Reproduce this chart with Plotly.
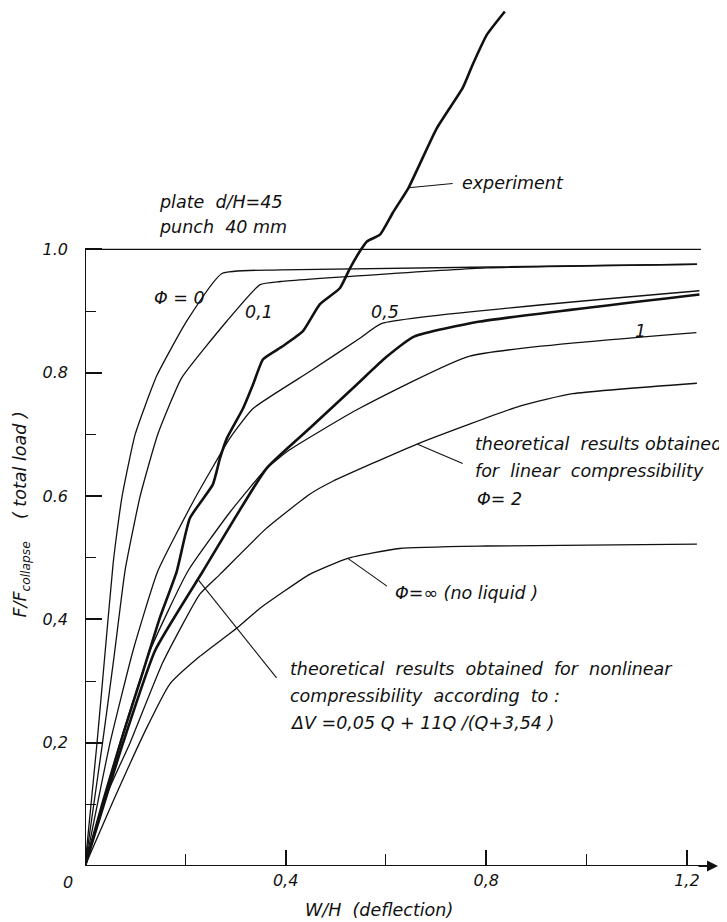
import plotly.graph_objects as go

# ---------------- data ----------------
phi0_x = [0, 0.024, 0.035, 0.056, 0.064, 0.074, 0.100, 0.143, 0.203, 0.273, 0.39, 1.22]
phi0_y = [0, 0.20, 0.30, 0.49, 0.543, 0.60, 0.70, 0.795, 0.884, 0.961, 0.967, 0.976]

phi01_x = [0, 0.035, 0.058, 0.080, 0.110, 0.145, 0.193, 0.283, 0.349, 0.39, 0.80, 1.22]
phi01_y = [0, 0.20, 0.34, 0.48, 0.60, 0.70, 0.792, 0.884, 0.943, 0.948, 0.970, 0.976]

phi05_x = [0, 0.050, 0.096, 0.145, 0.219, 0.289, 0.335, 0.448, 0.548, 0.592, 1.225]
phi05_y = [0, 0.20, 0.35, 0.478, 0.596, 0.694, 0.742, 0.802, 0.856, 0.880, 0.933]

phi1_x = [0, 0.070, 0.13, 0.205, 0.290, 0.362, 0.408, 0.542, 0.767, 1.219]
phi1_y = [0, 0.20, 0.35, 0.478, 0.575, 0.645, 0.675, 0.740, 0.827, 0.865]

phi2_x = [0, 0.044, 0.09, 0.155, 0.229, 0.269, 0.362, 0.448, 0.494, 0.661, 0.867, 0.972, 1.22]
phi2_y = [0, 0.117, 0.20, 0.33, 0.441, 0.473, 0.548, 0.603, 0.624, 0.684, 0.746, 0.766, 0.783]

phiinf_x = [0, 0.056, 0.123, 0.169, 0.229, 0.303, 0.349, 0.448, 0.524, 0.627, 0.80, 1.22]
phiinf_y = [0, 0.105, 0.224, 0.295, 0.340, 0.386, 0.418, 0.473, 0.499, 0.515, 0.519, 0.522]

nonlin_x = [0, 0.076, 0.14, 0.235, 0.362, 0.448, 0.542, 0.60, 0.657, 0.787, 1.225]
nonlin_y = [0, 0.20, 0.35, 0.478, 0.645, 0.710, 0.781, 0.825, 0.859, 0.883, 0.927]

exp_x = [0, 0.036, 0.076, 0.116, 0.149, 0.183, 0.209, 0.255, 0.269, 0.283, 0.315, 0.335,
         0.355, 0.394, 0.434, 0.468, 0.508, 0.528, 0.548, 0.562, 0.588, 0.614, 0.645,
         0.701, 0.753, 0.773, 0.801, 0.837]
exp_y = [0, 0.105, 0.214, 0.316, 0.402, 0.478, 0.564, 0.619, 0.661, 0.694, 0.742, 0.781,
         0.822, 0.843, 0.867, 0.911, 0.937, 0.969, 0.997, 1.013, 1.024, 1.06, 1.10,
         1.196, 1.262, 1.30, 1.348, 1.386]

x_major = [0.4, 0.8, 1.2]
x_major_text = ["0,4", "0,8", "1,2"]
x_minor = [0.2, 0.6, 1.0]
y_major = [0.2, 0.4, 0.6, 0.8, 1.0]
y_major_text = ["0,2", "0,4", "0.6", "0.8", "1.0"]
y_minor = [0.1, 0.3, 0.5, 0.7, 0.9]
limit_y = 1.0
limit_x_end = 1.228

# ---------------- styling ----------------
INK = "#111111"
FONT = dict(family="DejaVu Sans", size=17.5, color=INK, style="italic")
TICKFONT = dict(family="DejaVu Sans", size=16, color=INK, style="italic")
THIN = 1.3
THICK = 2.6

fig = go.Figure()

def add(x, y, w, name):
    fig.add_trace(go.Scatter(x=x, y=y, mode="lines", name=name,
                             line=dict(color=INK, width=w, shape="spline", smoothing=0.45),
                             hoverinfo="skip"))

add(phi0_x, phi0_y, THIN, "Φ=0")
add(phi01_x, phi01_y, THIN, "Φ=0.1")
add(phi05_x, phi05_y, THIN, "Φ=0.5")
add(phi1_x, phi1_y, THIN, "Φ=1")
add(phi2_x, phi2_y, THIN, "Φ=2")
add(phiinf_x, phiinf_y, THIN, "Φ=∞")
add(nonlin_x, nonlin_y, THICK, "nonlinear")
add(exp_x, exp_y, THICK, "experiment")

shapes = []
def seg(x0, y0, x1, y1, w=1.3):
    shapes.append(dict(type="line", xref="x", yref="y", x0=x0, y0=y0, x1=x1, y1=y1,
                       line=dict(color=INK, width=w)))

# axes lines
seg(0, 0, 0, limit_y, 2)
seg(0, 0, 1.25, 0, 2)
# limit line F/Fcollapse = 1
seg(0, limit_y, limit_x_end, limit_y, 1.3)
# leader lines
seg(0.645, 1.10, 0.733, 1.107, 1.1)
seg(0.663, 0.684, 0.753, 0.653, 1.1)
seg(0.524, 0.499, 0.602, 0.454, 1.1)
seg(0.225, 0.465, 0.382, 0.305, 1.1)

ann = []
def txt(x, y, t, xanchor="left", yanchor="middle", font=FONT, **kw):
    d = dict(x=x, y=y, xref="x", yref="y", text=t, showarrow=False,
             xanchor=xanchor, yanchor=yanchor, font=font)
    d.update(kw)
    ann.append(d)

txt(0.143, 1.077, "plate  d/H=45")
txt(0.143, 1.037, "punch  40 mm")
txt(0.747, 1.107, "experiment")
txt(0.133, 0.922, "Φ = 0")
txt(0.315, 0.899, "0,1")
txt(0.567, 0.898, "0,5")
txt(1.092, 0.868, "1")
txt(0.773, 0.684, "theoretical  results obtained")
txt(0.773, 0.640, "for  linear  compressibility")
txt(0.777, 0.596, "Φ= 2")
txt(0.614, 0.442, "Φ=∞ (no liquid )")
txt(0.404, 0.319, "theoretical  results  obtained  for  nonlinear")
txt(0.404, 0.276, "compressibility  according  to :")
txt(0.404, 0.232, "ΔV =0,05 Q + 11Q /(Q+3,54 )")
# origin label
txt(0, 0, "0", xanchor="center", yanchor="middle", font=TICKFONT, xshift=-17, yshift=-16)
# axis titles
txt(0.586, 0, "W/H  (deflection)", xanchor="center", yshift=-44)
txt(0, 0.57, "F/F<sub>collapse</sub>    ( total load )", xanchor="center",
    xshift=-63, textangle=-90)
# arrow head on x axis
ann.append(dict(x=1.262, y=0, ax=1.22, ay=0, xref="x", yref="y", axref="x", ayref="y",
                text="", showarrow=True, arrowhead=2, arrowsize=1.1, arrowwidth=2,
                arrowcolor=INK))

# the page body adds an offset, so the figure is sized to the visible area
fig.update_layout(
    width=719, height=914,
    margin=dict(l=77, r=5, t=1, b=56, pad=0),
    paper_bgcolor="white", plot_bgcolor="white",
    showlegend=False,
    shapes=shapes, annotations=ann,
    xaxis=dict(range=[0, 1.27], showgrid=False, zeroline=False, showline=False,
               automargin=False,
               ticks="inside", tickvals=x_major, ticktext=x_major_text,
               ticklen=16, tickwidth=1.6, tickcolor=INK, tickfont=TICKFONT,
               ticklabelstandoff=3,
               minor=dict(tickvals=x_minor, ticks="inside", ticklen=12,
                          tickwidth=1.3, tickcolor=INK)),
    yaxis=dict(range=[0, 1.39], showgrid=False, zeroline=False, showline=False,
               automargin=False,
               ticks="inside", tickvals=y_major, ticktext=y_major_text,
               ticklen=17, tickwidth=1.6, tickcolor=INK, tickfont=TICKFONT,
               ticklabelstandoff=16,
               minor=dict(tickvals=y_minor, ticks="inside", ticklen=11,
                          tickwidth=1.1, tickcolor=INK)),
)

fig.write_html("out.html")
